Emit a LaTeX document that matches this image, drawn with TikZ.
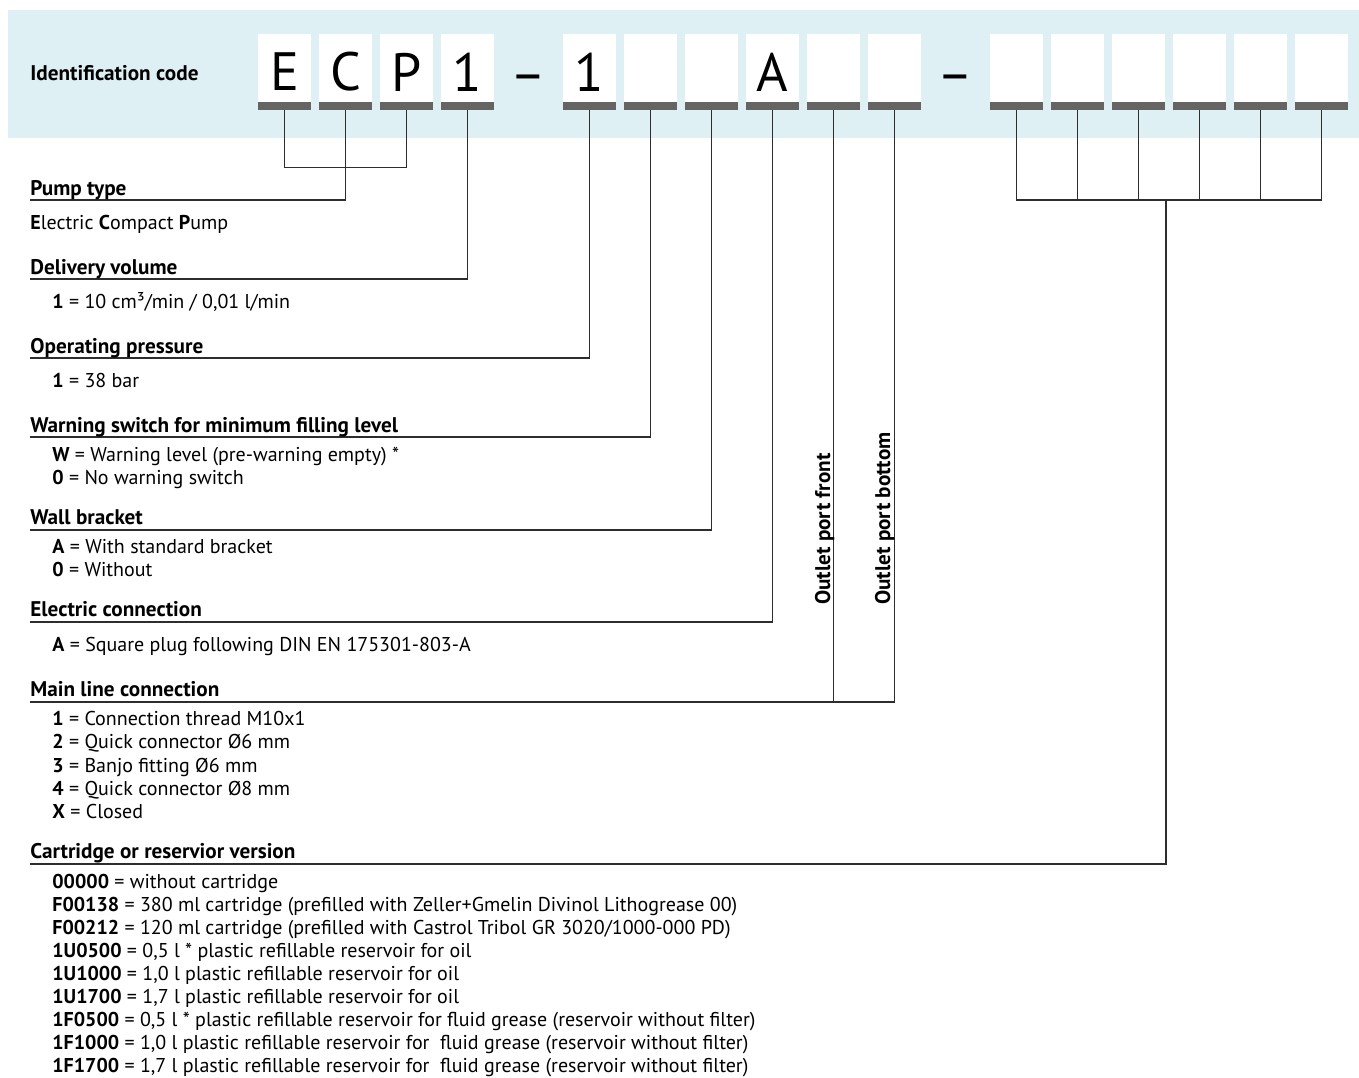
\documentclass[tikz,border=0pt]{standalone}
\usepackage{fontspec}
\setmainfont{PT Sans}
\usetikzlibrary{positioning, calc}
\definecolor{bandblue}{RGB}{223,240,245}
\definecolor{bargrey}{RGB}{100,100,100}
\definecolor{linegrey}{RGB}{45,45,45}

\tikzset{
  codebox/.style={fill=white, minimum width=26.5pt, minimum height=38pt, inner sep=0pt,
    font=\fontsize{27}{30}\selectfont,
    path picture={\fill[bargrey] (path picture bounding box.south west) rectangle ([yshift=4pt]path picture bounding box.south east);}},
  codedash/.style={inner sep=0pt, font=\fontsize{27}{30}\selectfont},
  head/.style={anchor=base west, inner sep=0pt, font=\fontsize{10.6}{12}\selectfont\bfseries},
  item/.style={anchor=base west, inner sep=0pt, font=\fontsize{10}{12}\selectfont},
  conn/.style={draw=linegrey, line width=0.65pt},
}

\begin{document}
\begin{tikzpicture}[x=0.5pt, y=-0.5pt]
\useasboundingbox (0,0) rectangle (1359,1077);

% code band
\fill[bandblue] (8,10) rectangle (1359,138);
\node[head] (idcode) at (30,80) {Identification code};
\foreach \i/\t in {0/E,1/C,2/P,3/1,5/1,6/{},7/{},8/A,9/{},10/{},12/{},13/{},14/{},15/{},16/{},17/{}}
  \node[codebox] (c\i) at ({284.5+61*\i},72) {\t};
\node[codedash] (d4) at (528.5,84) {–};
\node[codedash] (d11) at (955.5,84) {–};

% underline starts
\coordinate (ptL) at (30,200);
\coordinate (dvL) at (30,279);
\coordinate (opL) at (30,358);
\coordinate (wsL) at (30,437);
\coordinate (wbL) at (30,530);
\coordinate (ecL) at (30,622);
\coordinate (mlL) at (30,702);
\coordinate (caL) at (30,864);
\coordinate (cbus) at (1166,200);

% connectors
\draw[conn] (c0.south) -- ++(0,57) -| (c2.south);
\draw[conn] (c1.south) |- (ptL);
\draw[conn] (c3.south) |- (dvL);
\draw[conn] (c5.south) |- (opL);
\draw[conn] (c6.south) |- (wsL);
\draw[conn] (c7.south) |- (wbL);
\draw[conn] (c8.south) |- (ecL);
\draw[conn] (c10.south) |- (mlL);
\draw[conn] (c9.south) -- (c9.south |- mlL);
\draw[conn] (c12.south) -- (c12.south |- cbus) -- (c17.south |- cbus) -- (c17.south);
\foreach \i in {13,...,16}
  \draw[conn] (c\i.south) -- (c\i.south |- cbus);
\draw[conn] (cbus) |- (caL);

% outlet labels
\node[head, rotate=90] (opfront) at (830,605) {Outlet port front};
\node[head, rotate=90] (opbottom) at (890,605) {Outlet port bottom};

% pump type
\node[head] (pt) at (30,195) {Pump type};
\node[item] (pt1) at (30,229) {\textbf{E}lectric \textbf{C}ompact \textbf{P}ump};

% delivery volume
\node[head] (dv) at (30,274) {Delivery volume};
\node[item] (dv1) at (52,308) {\textbf{1} = 10 cm³/min / 0,01 l/min};

% operating pressure
\node[head] (op) at (30,353) {Operating pressure};
\node[item] (op1) at (52,387) {\textbf{1} = 38 bar};

% warning switch
\node[head] (ws) at (30,432) {Warning switch for minimum filling level};
\node[item] (ws1) at (52,461) {\textbf{W} = Warning level (pre-warning empty) *};
\node[item] (ws2) at (52,484) {\textbf{0} = No warning switch};

% wall bracket
\node[head] (wb) at (30,524) {Wall bracket};
\node[item] (wb1) at (52,553) {\textbf{A} = With standard bracket};
\node[item] (wb2) at (52,576) {\textbf{0} = Without};

% electric connection
\node[head] (ec) at (30,616) {Electric connection};
\node[item] (ec1) at (52,651) {\textbf{A} = Square plug following DIN EN 175301-803-A};

% main line connection
\node[head] (ml) at (30,696) {Main line connection};
\node[item] (ml1) at (52,725) {\textbf{1} = Connection thread M10x1};
\node[item] (ml2) at (52,748) {\textbf{2} = Quick connector Ø6 mm};
\node[item] (ml3) at (52,772) {\textbf{3} = Banjo fitting Ø6 mm};
\node[item] (ml4) at (52,795) {\textbf{4} = Quick connector Ø8 mm};
\node[item] (ml5) at (52,818) {\textbf{X} = Closed};

% cartridge
\node[head] (ca) at (30,858) {Cartridge or reservior version};
\node[item] (ca1) at (52,888) {\textbf{00000} = without cartridge};
\node[item] (ca2) at (52,911) {\textbf{F00138} = 380 ml cartridge (prefilled with Zeller+Gmelin Divinol Lithogrease 00)};
\node[item] (ca3) at (52,934) {\textbf{F00212} = 120 ml cartridge (prefilled with Castrol Tribol GR 3020/1000-000 PD)};
\node[item] (ca4) at (52,957) {\textbf{1U0500} = 0,5 l * plastic refillable reservoir for oil};
\node[item] (ca5) at (52,980) {\textbf{1U1000} = 1,0 l plastic refillable reservoir for oil};
\node[item] (ca6) at (52,1003) {\textbf{1U1700} = 1,7 l plastic refillable reservoir for oil};
\node[item] (ca7) at (52,1026) {\textbf{1F0500} = 0,5 l * plastic refillable reservoir for fluid grease (reservoir without filter)};
\node[item] (ca8) at (52,1049) {\textbf{1F1000} = 1,0 l plastic refillable reservoir for \ fluid grease (reservoir without filter)};
\node[item] (ca9) at (52,1072) {\textbf{1F1700} = 1,7 l plastic refillable reservoir for \ fluid grease (reservoir without filter)};
\end{tikzpicture}
\end{document}
